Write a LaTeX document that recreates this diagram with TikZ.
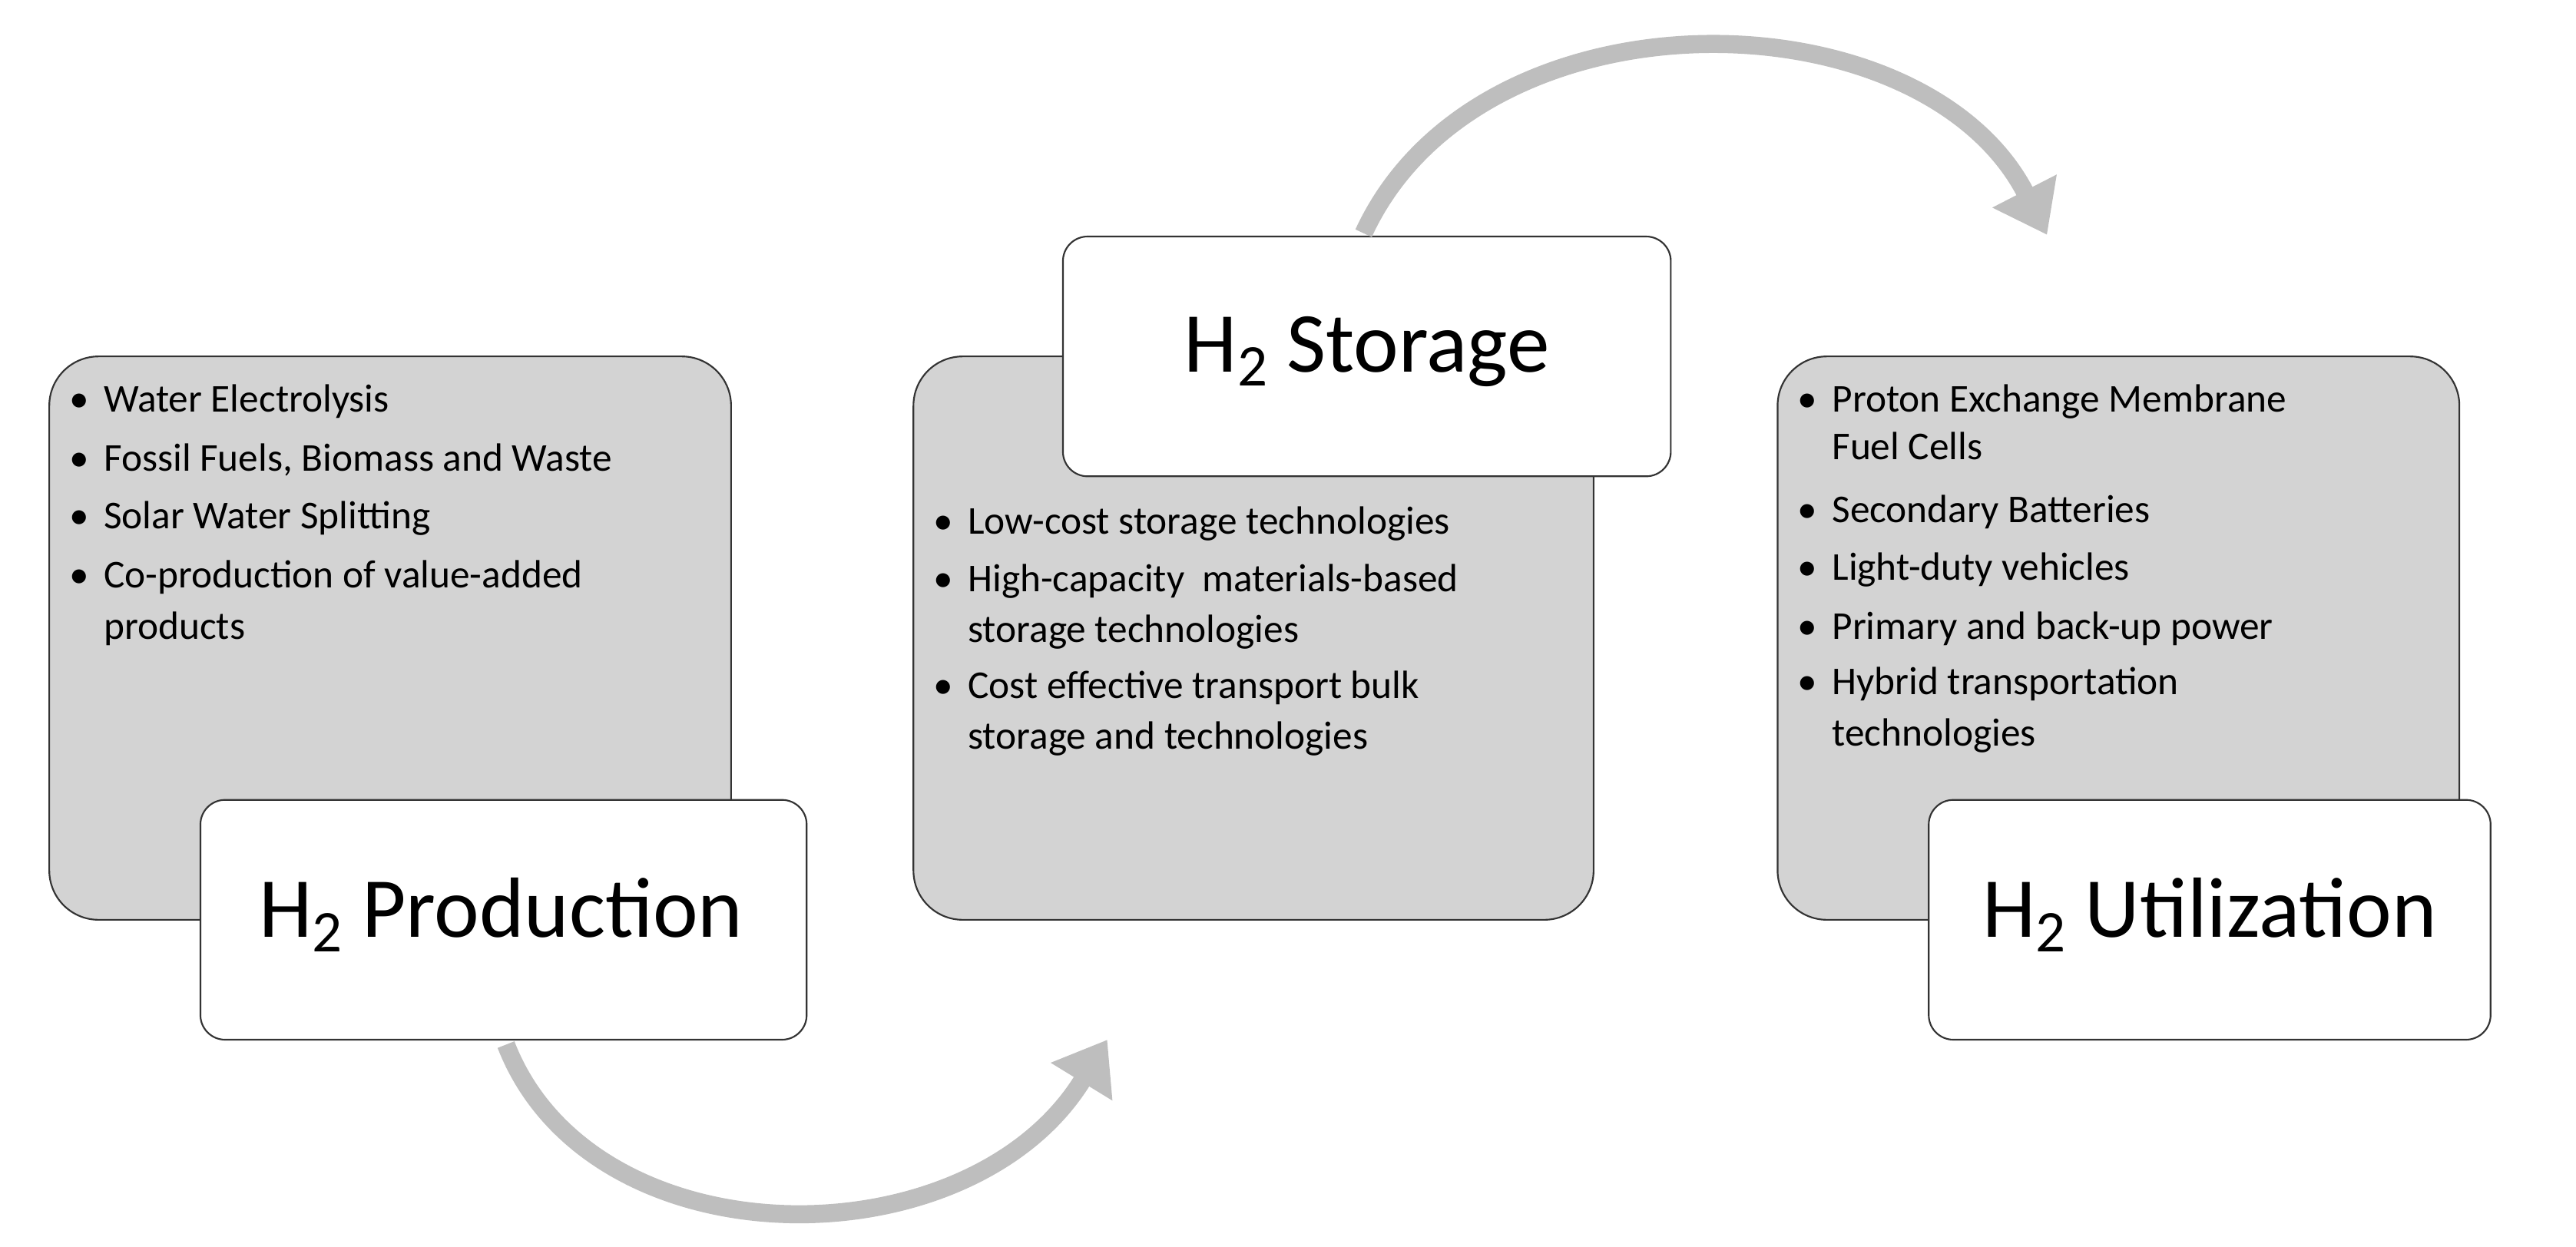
\documentclass[tikz,border=0pt]{standalone}
\usepackage{fontspec}
\setmainfont{Carlito}
\usetikzlibrary{arrows.meta}
\definecolor{boxgray}{RGB}{211,211,211}
\definecolor{arrgray}{RGB}{190,190,190}
\newcommand{\Htwo}{H\raisebox{-0.35ex}{\fontsize{36}{36}\selectfont 2}}
\begin{document}
\begin{tikzpicture}[x=1pt,y=-1pt,
  gbox/.style={draw=black!80,line width=1pt,fill=boxgray,rounded corners=30pt},
  wbox/.style={draw=black!80,line width=1pt,fill=white,rounded corners=15pt},
  title/.style={font=\fontsize{52}{52}\selectfont},
  it/.style={anchor=base west,inner sep=0pt,font=\fontsize{24}{28}\selectfont},
  flow/.style={draw=arrgray,line width=11pt,-{Triangle[length=30pt,width=42pt]}}]
\useasboundingbox (0,0) rectangle (1568,759);
% boxes
\draw[gbox] (30,217) rectangle (445,560);
\draw[gbox] (556,217) rectangle (970,560);
\draw[gbox] (1082,217) rectangle (1497,560);
\draw[wbox] (122,487) rectangle (491,633);
\draw[wbox] (647,144) rectangle (1017,290);
\draw[wbox] (1174,487) rectangle (1516,633);
\node[title] (prod) at (305,557) {\Htwo\ Production};
\node[title] (stor) at (832,214) {\Htwo\ Storage};
\node[title] (util) at (1345,557) {\Htwo\ Utilization};
% arrows
\coordinate (a1s) at (308,636);
\coordinate (a1e) at (674,633);
\coordinate (a2s) at (830,142);
\coordinate (a2e) at (1246,143);
\draw[flow] (a1s) .. controls (360,770) and (590,770) .. (a1e);
\draw[flow] (a2s) .. controls (900,-10) and (1170,-5) .. (a2e);
% left list
\foreach \y/\t in {251/Water Electrolysis,287/{Fossil Fuels, Biomass and Waste},322/Solar Water Splitting,358/Co-production of value-added}
  {\node[it] at (42,\y) {\textbullet}; \node[it] at (63,\y) {\t};}
\node[it] (l5) at (63,389) {products};
% middle list
\foreach \y/\t in {325/Low-cost storage technologies,360/High-capacity\ \ materials-based,425/Cost effective transport bulk}
  {\node[it] at (568,\y) {\textbullet}; \node[it] at (589,\y) {\t};}
\node[it] (m2) at (589,391) {storage technologies};
\node[it] (m4) at (589,456) {storage and technologies};
% right list
\foreach \y/\t in {251/Proton Exchange Membrane,318/Secondary Batteries,353/Light-duty vehicles,389/Primary and back-up power,423/Hybrid transportation}
  {\node[it] at (1094,\y) {\textbullet}; \node[it] at (1115,\y) {\t};}
\node[it] (r2) at (1115,280) {Fuel Cells};
\node[it] (r7) at (1115,454) {technologies};
\end{tikzpicture}
\end{document}
